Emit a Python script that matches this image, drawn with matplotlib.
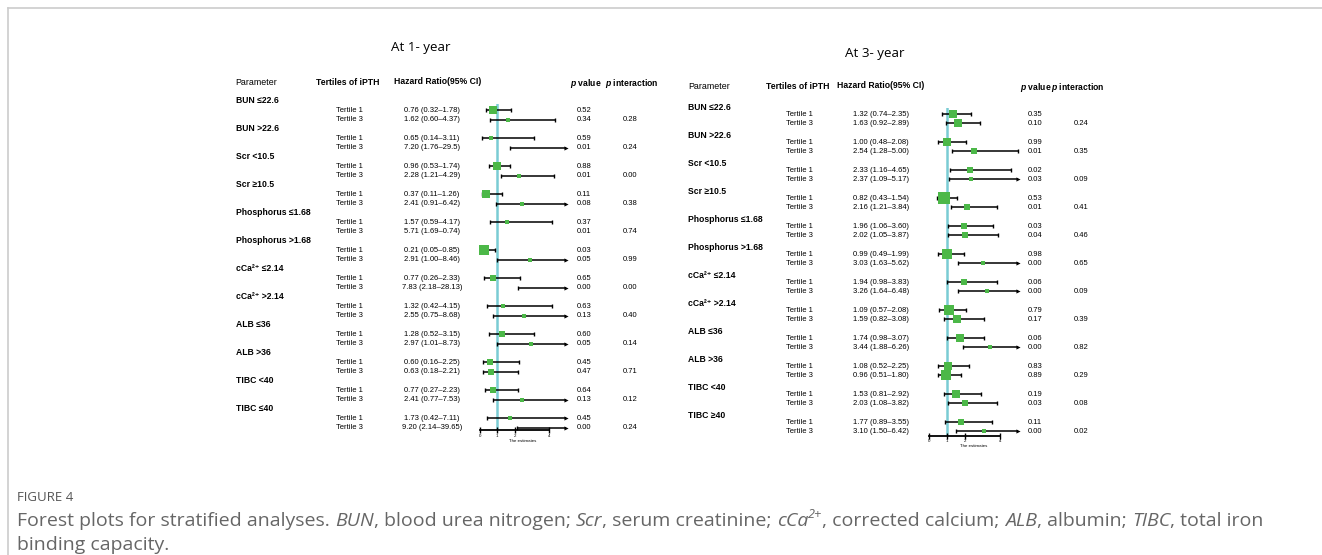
import matplotlib.pyplot as plt
from matplotlib.transforms import blended_transform_factory
from matplotlib.font_manager import FontProperties

plt.rcParams['font.family'] = ['Liberation Sans', 'DejaVu Sans']
plt.rcParams['mathtext.fontset'] = 'custom'
plt.rcParams['mathtext.rm'] = 'Liberation Sans'
plt.rcParams['mathtext.it'] = 'Liberation Sans:italic:bold'
plt.rcParams['mathtext.bf'] = 'Liberation Sans:bold'

# ---- data: 1 year ----
groups_1y = ["BUN ≤22.6", "BUN >22.6", "Scr <10.5", "Scr ≥10.5", "Phosphorus ≤1.68",
             "Phosphorus >1.68", "cCa²⁺ ≤2.14", "cCa²⁺ >2.14", "ALB ≤36",
             "ALB >36", "TIBC <40", "TIBC ≤40"]
tertiles = ["Tertile 1", "Tertile 3"]
hr_1y = [0.76, 1.62, 0.65, 7.20, 0.96, 2.28, 0.37, 2.41, 1.57, 5.71, 0.21, 2.91,
         0.77, 7.83, 1.32, 2.55, 1.28, 2.97, 0.60, 0.63, 0.77, 2.41, 1.73, 9.20]
lo_1y = [0.32, 0.60, 0.14, 1.76, 0.53, 1.21, 0.11, 0.91, 0.59, 1.69, 0.05, 1.00,
         0.26, 2.18, 0.42, 0.75, 0.52, 1.01, 0.16, 0.18, 0.27, 0.77, 0.42, 2.14]
hi_1y = [1.78, 4.37, 3.11, 29.5, 1.74, 4.29, 1.26, 6.42, 4.17, 0.74, 0.85, 8.46,
         2.33, 28.13, 4.15, 8.68, 3.15, 8.73, 2.25, 2.21, 2.23, 7.53, 7.11, 39.65]
ci_txt_1y = ["0.76 (0.32–1.78)", "1.62 (0.60–4.37)", "0.65 (0.14–3.11)", "7.20 (1.76–29.5)",
             "0.96 (0.53–1.74)", "2.28 (1.21–4.29)", "0.37 (0.11–1.26)", "2.41 (0.91–6.42)",
             "1.57 (0.59–4.17)", "5.71 (1.69–0.74)", "0.21 (0.05–0.85)", "2.91 (1.00–8.46)",
             "0.77 (0.26–2.33)", "7.83 (2.18–28.13)", "1.32 (0.42–4.15)", "2.55 (0.75–8.68)",
             "1.28 (0.52–3.15)", "2.97 (1.01–8.73)", "0.60 (0.16–2.25)", "0.63 (0.18–2.21)",
             "0.77 (0.27–2.23)", "2.41 (0.77–7.53)", "1.73 (0.42–7.11)", "9.20 (2.14–39.65)"]
p_1y = ["0.52", "0.34", "0.59", "0.01", "0.88", "0.01", "0.11", "0.08", "0.37", "0.01", "0.03", "0.05",
        "0.65", "0.00", "0.63", "0.13", "0.60", "0.05", "0.45", "0.47", "0.64", "0.13", "0.45", "0.00"]
pint_1y = ["0.28", "0.24", "0.00", "0.38", "0.74", "0.99", "0.00", "0.40", "0.14", "0.71", "0.12", "0.24"]

# ---- data: 3 years ----
groups_3y = ["BUN ≤22.6", "BUN >22.6", "Scr <10.5", "Scr ≥10.5", "Phosphorus ≤1.68",
             "Phosphorus >1.68", "cCa²⁺ ≤2.14", "cCa²⁺ >2.14", "ALB ≤36",
             "ALB >36", "TIBC <40", "TIBC ≥40"]
hr_3y = [1.32, 1.63, 1.00, 2.54, 2.33, 2.37, 0.82, 2.16, 1.96, 2.02, 0.99, 3.03,
         1.94, 3.26, 1.09, 1.59, 1.74, 3.44, 1.08, 0.96, 1.53, 2.03, 1.77, 3.10]
lo_3y = [0.74, 0.92, 0.48, 1.28, 1.16, 1.09, 0.43, 1.21, 1.06, 1.05, 0.49, 1.63,
         0.98, 1.64, 0.57, 0.82, 0.98, 1.88, 0.52, 0.51, 0.81, 1.08, 0.89, 1.50]
hi_3y = [2.35, 2.89, 2.08, 5.00, 4.65, 5.17, 1.54, 3.84, 3.60, 3.87, 1.99, 5.62,
         3.83, 6.48, 2.08, 3.08, 3.07, 6.26, 2.25, 1.80, 2.92, 3.82, 3.55, 6.42]
ci_txt_3y = ["1.32 (0.74–2.35)", "1.63 (0.92–2.89)", "1.00 (0.48–2.08)", "2.54 (1.28–5.00)",
             "2.33 (1.16–4.65)", "2.37 (1.09–5.17)", "0.82 (0.43–1.54)", "2.16 (1.21–3.84)",
             "1.96 (1.06–3.60)", "2.02 (1.05–3.87)", "0.99 (0.49–1.99)", "3.03 (1.63–5.62)",
             "1.94 (0.98–3.83)", "3.26 (1.64–6.48)", "1.09 (0.57–2.08)", "1.59 (0.82–3.08)",
             "1.74 (0.98–3.07)", "3.44 (1.88–6.26)", "1.08 (0.52–2.25)", "0.96 (0.51–1.80)",
             "1.53 (0.81–2.92)", "2.03 (1.08–3.82)", "1.77 (0.89–3.55)", "3.10 (1.50–6.42)"]
p_3y = ["0.35", "0.10", "0.99", "0.01", "0.02", "0.03", "0.53", "0.01", "0.03", "0.04", "0.98", "0.00",
        "0.06", "0.00", "0.79", "0.17", "0.06", "0.00", "0.83", "0.89", "0.19", "0.03", "0.11", "0.00"]
pint_3y = ["0.24", "0.35", "0.09", "0.41", "0.46", "0.65", "0.09", "0.39", "0.82", "0.29", "0.08", "0.02"]

xticks = [0, 1, 2, 4]

W, H = 1322, 555
ROW = 9.333
GREEN = '#4cb848'
TEAL = '#7accd4'

fig = plt.figure(figsize=(W / 100, H / 100), dpi=100)


def draw_panel(title, groups, hr, lo, hi, ci_txt, pv, pint, lay):
    zero, unit, row0 = lay['zero'], lay['unit'], lay['row0']
    xl = (-0.6, 5.6)
    yl = lay['ylim']
    left = zero + xl[0] * unit
    bottom = row0 + yl[0] * ROW
    ax = fig.add_axes([left / W, 1 - bottom / H, (xl[1] - xl[0]) * unit / W,
                       (yl[0] - yl[1]) * ROW / H])
    ax.set_xlim(xl)
    ax.set_ylim(yl)
    ax.patch.set_alpha(0)
    for s in ['left', 'right', 'top']:
        ax.spines[s].set_visible(False)
    ax.spines['bottom'].set_bounds(0, 4)
    ax.spines['bottom'].set_linewidth(1.3)
    ax.set_yticks([])
    ax.set_xticks(xticks)
    ax.tick_params(axis='x', direction='inout', length=4, width=1.0, labelsize=3.2, pad=0.5)
    ax.set_xlabel("The estimates", fontsize=3.2, labelpad=0.5)
    ax.axvline(1, color=TEAL, lw=1.8, zorder=1)

    widths = [u - l for l, u in zip(lo, hi)]
    for i, (h, l, u) in enumerate(zip(hr, lo, hi)):
        r = 3 * (i // 2) + 1 + i % 2
        if l > u:
            continue
        x0, x1 = max(l, 0), min(u, 5)
        ax.plot([x0, x1], [r, r], color='black', lw=1.1, zorder=2, solid_capstyle='butt')
        ax.plot([x0], [r], marker='|', ms=2.8, mew=1.0, color='black', zorder=2)
        if u > 5:
            ax.plot([x1], [r], marker='>', ms=3.0, color='black', mew=0, zorder=2)
        else:
            ax.plot([x1], [r], marker='|', ms=2.8, mew=1.0, color='black', zorder=2)
        if h <= 5:
            side = lay['k'] * widths[i] ** (-lay['b'])
            ax.plot([h], [r], marker='s', ms=side * 0.72, color=GREEN, mew=0, zorder=3)

    tr = blended_transform_factory(fig.transFigure, ax.transData)
    c = lay['cols']
    for g, name in enumerate(groups):
        ax.text(c['group'] / W, 3 * g + lay['gshift'], name, transform=tr, fontsize=6.2,
                fontweight='bold', va='center', ha='left')
        for k in range(2):
            i = 2 * g + k
            r = 3 * g + 1 + k
            ax.text(c['tert'] / W, r, tertiles[k], transform=tr, fontsize=5.5, va='center', ha='left')
            ax.text(c['ci'] / W, r, ci_txt[i], transform=tr, fontsize=5.5, va='center', ha='center')
            ax.text(c['p'] / W, r, pv[i], transform=tr, fontsize=5.5, va='center', ha='left')
        ax.text(c['pint'] / W, 3 * g + 2, pint[g], transform=tr, fontsize=5.5, va='center', ha='left')

    hd = lay['head']
    fig.text(hd['param'][0] / W, 1 - hd['param'][1] / H, "Parameter", fontsize=6.4, va='center')
    fig.text(hd['tert'][0] / W, 1 - hd['tert'][1] / H, "Tertiles of iPTH", fontsize=6.2,
             fontweight='bold', va='center')
    fig.text(hd['hr'][0] / W, 1 - hd['hr'][1] / H, "Hazard Ratio(95% CI)", fontsize=6.2,
             fontweight='bold', va='center')
    fig.text(hd['pv'][0] / W, 1 - hd['pv'][1] / H, "$p$ value", fontsize=6.2,
             fontweight='bold', va='center')
    fig.text(hd['pint'][0] / W, 1 - hd['pint'][1] / H, "$p$ interaction", fontsize=6.2,
             fontweight='bold', va='center')
    fig.text(lay['title'][0] / W, 1 - lay['title'][1] / H, title, fontsize=9.6,
             family='Open Sans', ha='center', va='center')


lay_1y = dict(zero=480.0, unit=17.25, row0=101.0, ylim=(35.3, 0.3), gshift=0.0, k=8.5, b=0.5,
              cols=dict(group=236, tert=336, ci=432, p=577, pint=623),
              head=dict(param=(235, 82.5), tert=(316, 82.5), hr=(394, 81), pv=(570, 84), pint=(605, 84)),
              title=(421, 47))
lay_3y = dict(zero=929.3, unit=17.67, row0=104.7, ylim=(35.45, 0.35), gshift=0.25, k=12.0, b=0.65,
              cols=dict(group=688, tert=786, ci=881, p=1028, pint=1074),
              head=dict(param=(688, 86.5), tert=(766, 86.5), hr=(837, 86), pv=(1020, 88), pint=(1051, 88)),
              title=(875, 53))

draw_panel("At 1- year", groups_1y, hr_1y, lo_1y, hi_1y, ci_txt_1y, p_1y, pint_1y, lay_1y)
draw_panel("At 3- year", groups_3y, hr_3y, lo_3y, hi_3y, ci_txt_3y, p_3y, pint_3y, lay_3y)

# frame lines of the page
fig.add_artist(plt.Line2D([8 / W, 1], [1 - 8 / H, 1 - 8 / H], transform=fig.transFigure,
                          color='#cccccc', lw=1.2))
fig.add_artist(plt.Line2D([8 / W, 8 / W], [1 - 8 / H, 0], transform=fig.transFigure,
                          color='#cccccc', lw=1.2))

# caption
CAP = '#666666'
X0 = 17.0
fig.text(X0 / W, 1 - 501 / H, "FIGURE 4", fontsize=9.5, family='Open Sans', color='#555555',
         va='baseline')

renderer = fig.canvas.get_renderer()
runs = [("Forest plots for stratified analyses. ", 'n'), ("BUN", 'i'), (", blood urea nitrogen; ", 'n'),
        ("Scr", 'i'), (", serum creatinine; ", 'n'), ("cCa", 'i'), ("2+", 's'),
        (", corrected calcium; ", 'n'), ("ALB", 'i'), (", albumin; ", 'n'), ("TIBC", 'i'),
        (", total iron", 'n')]
x = X0
base = 526.0
fsz = 14.0
for s, st in runs:
    size = fsz * 0.65 if st == 's' else fsz
    fp = FontProperties(family='Open Sans', size=size, style='normal' if st == 'n' else 'italic')
    y = base - (8 if st == 's' else 0)
    fig.text(x / W, 1 - y / H, s, fontproperties=fp, color=CAP, va='baseline')
    w = renderer.get_text_width_height_descent("X" + s + "X", fp, False)[0] - \
        renderer.get_text_width_height_descent("XX", fp, False)[0]
    x += w
fig.text(X0 / W, 1 - 550 / H, "binding capacity.", fontsize=fsz, family='Open Sans', color=CAP,
         va='baseline')

fig.savefig("out.png", dpi=100)
